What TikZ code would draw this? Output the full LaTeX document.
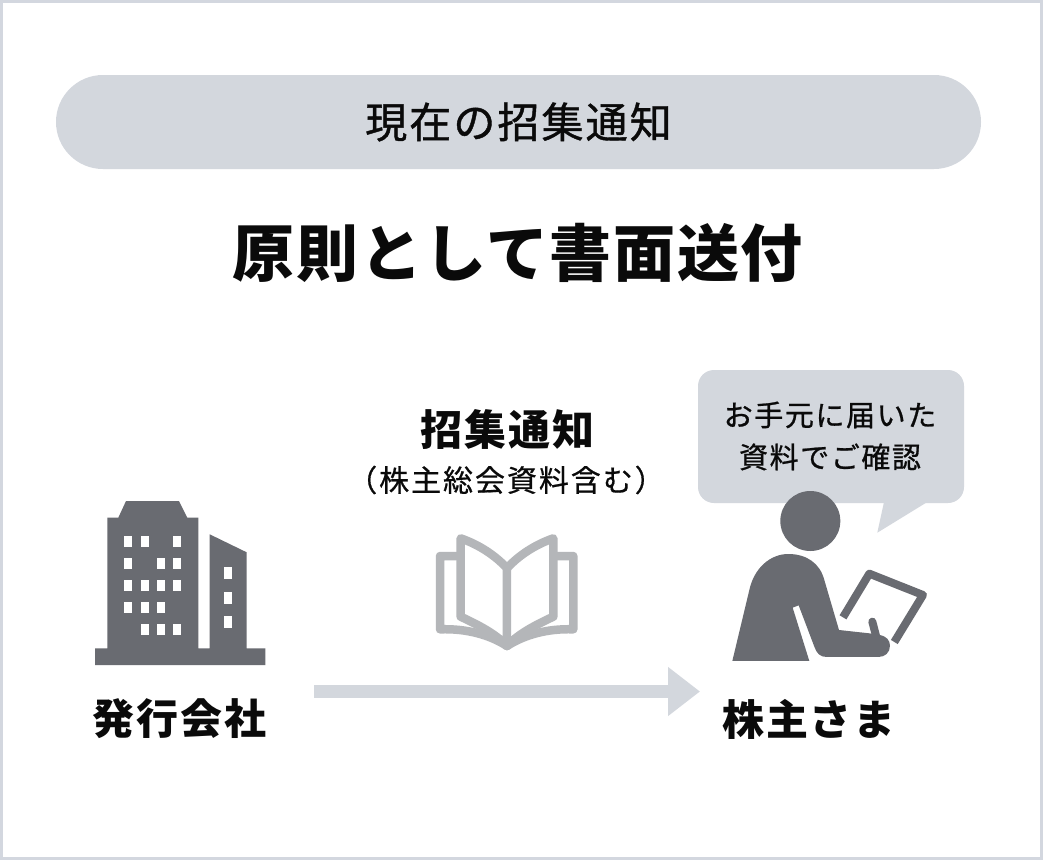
\documentclass[tikz,border=0pt]{standalone}
\usepackage{fontspec}
\usetikzlibrary{arrows.meta}
\newfontfamily\cjkN{Noto Sans CJK JP}
\definecolor{pale}{HTML}{D3D7DD}
\definecolor{dark}{HTML}{696B71}
\definecolor{bookc}{HTML}{B4B6B9}
\definecolor{ink}{HTML}{0A0A0A}
\definecolor{framec}{HTML}{D3D7DF}
\newfontfamily\cjkMedA[LetterSpace=5,FakeBold=1.0]{Noto Sans CJK JP}
\newfontfamily\cjkMedB[LetterSpace=5.5,FakeBold=0.8]{Noto Sans CJK JP}
\newfontfamily\cjkMedC[LetterSpace=6.5,FakeBold=0.6]{Noto Sans CJK JP}
\tikzset{
  lab/.style={text=ink,inner sep=0pt,anchor=center},
  iconfill/.style={fill=dark,draw=none},
  win/.style={fill=white,draw=none},
  bookline/.style={draw=bookc,line width=8.5pt,line join=round,line cap=round},
}
\newcommand{\winAt}[2]{\fill[win] (#1,#2) rectangle ++(8,11);}
\begin{document}
\begin{tikzpicture}[x=1pt,y=-1pt]
\useasboundingbox (0,0) rectangle (1043,860);
\fill[white] (0,0) rectangle (1043,860);
\draw[framec,line width=3] (1.5,1.5) rectangle (1041.5,858.5);
% header
\node[lab,fill=pale,rounded corners=47,minimum width=925,minimum height=94] (head) at (518.5,122)
  {\fontsize{42}{50}\selectfont\cjkMedA 現在の招集通知};
\node[lab] (main) at (518,253) {\fontsize{62}{74}\selectfont\cjkN\bfseries\addfontfeature{LetterSpace=2.8}原則として書面送付};
% building
\fill[iconfill] (126,501) -- (179,501) -- (187.3,517.7) -- (198.3,517.7) -- (198.3,648.3)
  -- (209.7,648.3) -- (209.7,534.3) -- (246.7,552.3) -- (246.7,648.3) -- (265.3,648.3)
  -- (265.3,665) -- (95,665) -- (95,648.3) -- (107.3,648.3) -- (107.3,517.7) -- (118.3,517.7) -- cycle;
\foreach \c/\r in {124.3/536,140.7/536,173.3/536,
  124.3/558.3,157/558.3,173.3/558.3,
  124.3/580.3,140.7/580.3,157/580.3,173.3/580.3,
  124.3/602.3,140.7/602.3,157/602.3,
  140.7/624,157/624,173.3/624}{\winAt{\c}{\r}}
\foreach \r in {567,592,616}{\fill[win] (224.3,\r) rectangle ++(8,12);}
\node[lab] (issuer) at (179.5,719) {\fontsize{42}{50}\selectfont\cjkN\bfseries\addfontfeature{LetterSpace=5}発行会社};
% book
\begin{scope}[shift={(420,520)},x=0.3333pt,y=-0.3333pt]
\draw[bookline] (110,108) -- (60,108) -- (60,328)
  .. controls (140,325) and (210,345) .. (261,378)
  .. controls (312,345) and (382,325) .. (460,328) -- (460,108) -- (410,108);
\draw[bookline] (261,378) .. controls (225,340) and (175,315) .. (122,290) -- (122,55)
  .. controls (180,75) and (230,110) .. (261,145) -- (261,378);
\draw[bookline] (261,378) .. controls (297,340) and (347,315) .. (400,290) -- (400,55)
  .. controls (342,75) and (292,110) .. (261,145);
\end{scope}
\node[lab] (notice) at (507.5,429) {\fontsize{42}{50}\selectfont\cjkN\bfseries\addfontfeature{LetterSpace=4.5}招集通知};
\node[lab] (sub) at (506,480) {\fontsize{30}{36}\selectfont\cjkMedC （株主総会資料含む）};
% arrow
\coordinate (astart) at (314,691.5);
\coordinate (aend) at (700,691.5);
\draw[pale,line width=13,-{Triangle[length=32pt,width=47pt]}] (astart) -- (aend);
% bubble
\fill[pale,rounded corners=16] (698,370) rectangle (964,503);
\fill[pale] (884,502) -- (877.3,532.7) -- (927.3,502) -- cycle;
\node[lab,align=center,font=\fontsize{29}{42}\selectfont\cjkMedB] (speech) at (830,436) {お手元に届いた\\資料でご確認};
% person
\begin{scope}[shift={(690,480)},x=0.3333pt,y=-0.3333pt]
\fill[iconfill] (361,123) circle (30pt);
\draw[draw=dark,line width=8pt,line cap=butt,line join=round] (459,412) -- (538,281) -- (699,345) -- (613,486);
\fill[iconfill] (127,543) -- (178,330) .. controls (192,265) and (240,222) .. (295,222)
  .. controls (350,222) and (390,250) .. (403,300) -- (447,450) -- (538,460)
  -- (568,465) .. controls (590,468) and (600,482) .. (600,497)
  .. controls (600,518) and (585,531) .. (565,531) -- (410,531)
  .. controls (390,531) and (380,520) .. (373,500) -- (326,376) -- (308,383) -- (358,543) -- cycle;
\draw[dark,line width=8pt,line cap=round] (547,425) -- (560,475);
\end{scope}
\node[lab] (holder) at (809,719) {\fontsize{42}{50}\selectfont\cjkN\bfseries\addfontfeature{LetterSpace=4.5}株主さま};
\end{tikzpicture}
\end{document}
